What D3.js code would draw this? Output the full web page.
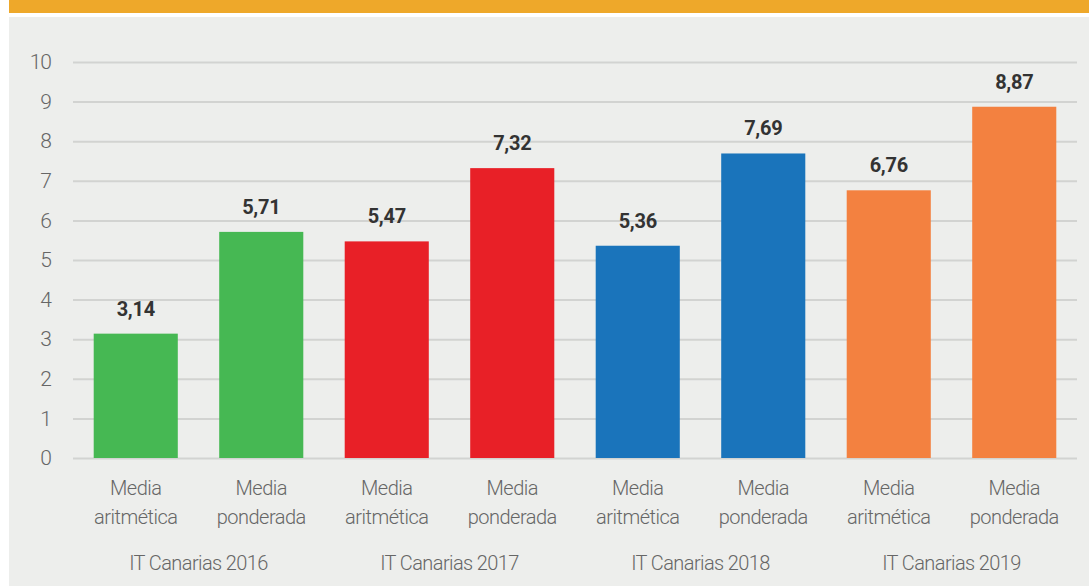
<!DOCTYPE html>
<html>
<head>
<meta charset="utf-8">
<script src="https://cdn.jsdelivr.net/npm/d3@7"></script>
<style>
  html, body { margin: 0; padding: 0; background: #fff; }
  svg { display: block; }
</style>
</head>
<body>
<div id="chart"></div>
<script>
// data
const groups = ["IT Canarias 2016", "IT Canarias 2017", "IT Canarias 2018", "IT Canarias 2019"];
const measures = ["Media aritmética", "Media ponderada"];
const values = [3.14, 5.71, 5.47, 7.32, 5.36, 7.69, 6.76, 8.87];
const groupColors = ["#46b853", "#e82027", "#1a74bb", "#f38140"];
const yTicks = [0, 1, 2, 3, 4, 5, 6, 7, 8, 9, 10];

const W = 1089, H = 586;
const margin = { top: 62, right: 12, bottom: 128, left: 73 };
const width = W - margin.left - margin.right;
const height = H - margin.top - margin.bottom;

const rows = values.map((v, i) => ({
  key: i,
  group: groups[Math.floor(i / 2)],
  measure: measures[i % 2],
  value: v,
  color: groupColors[Math.floor(i / 2)]
}));

const svg = d3.select("#chart").append("svg")
  .attr("width", W)
  .attr("height", H);

// orange header strip and grey panel
svg.append("rect").attr("x", 9).attr("y", 0).attr("width", W - 9).attr("height", 13).attr("fill", "#eea82a");
svg.append("rect").attr("x", 9).attr("y", 17).attr("width", W - 9).attr("height", H - 17).attr("fill", "#edeeec");

const g = svg.append("g").attr("transform", `translate(${margin.left},${margin.top})`);

const x = d3.scaleBand()
  .domain(rows.map(d => d.key))
  .range([0, width])
  .paddingInner(0.33)
  .paddingOuter(0.165);

const y = d3.scaleLinear().domain([0, 10]).range([height, 0]);

// gridlines + y labels
const yAxis = g.append("g")
  .call(d3.axisLeft(y).tickValues(yTicks).tickSize(-width).tickPadding(12).tickFormat(d3.format("d")));
yAxis.select(".domain").remove();
yAxis.selectAll(".tick line").attr("stroke", "#d2d3d1").attr("stroke-width", 2);
yAxis.selectAll(".tick text")
  .attr("x", -22)
  .attr("fill", "#666")
  .style("font-family", "Roboto, sans-serif")
  .style("font-weight", 300)
  .style("font-size", "21px")
  .style("letter-spacing", "-1px");

// bars
g.selectAll("rect.bar").data(rows).join("rect")
  .attr("class", "bar")
  .attr("x", d => x(d.key))
  .attr("y", d => y(d.value))
  .attr("width", x.bandwidth())
  .attr("height", d => y(0) - y(d.value))
  .attr("fill", d => d.color);

// value labels
const fmt = v => d3.format(".2f")(v).replace(".", ",");
g.selectAll("text.val").data(rows).join("text")
  .attr("class", "val")
  .attr("x", d => x(d.key) + x.bandwidth() / 2)
  .attr("y", d => y(d.value) - 18)
  .attr("text-anchor", "middle")
  .attr("fill", "#333")
  .style("font-family", "Roboto, sans-serif")
  .style("font-weight", 700)
  .style("font-size", "20px")
  .style("letter-spacing", "-0.3px");

g.selectAll("text.val").text(d => fmt(d.value));

// category labels (two lines)
const cat = g.selectAll("text.cat").data(rows).join("text")
  .attr("class", "cat")
  .attr("text-anchor", "middle")
  .attr("fill", "#666")
  .style("font-family", "Roboto, sans-serif")
  .style("font-weight", 300)
  .style("font-size", "20px")
  .style("letter-spacing", "-0.5px");
cat.each(function(d) {
  const parts = d.measure.split(" ");
  const t = d3.select(this);
  const cx = x(d.key) + x.bandwidth() / 2;
  t.append("tspan").attr("x", cx).attr("y", height + 37).text(parts[0]);
  t.append("tspan").attr("x", cx).attr("y", height + 66).text(parts[1]);
});

// group labels
g.selectAll("text.grp").data(groups).join("text")
  .attr("class", "grp")
  .attr("x", (d, i) => (x(i * 2) + x(i * 2 + 1) + x.bandwidth()) / 2)
  .attr("y", height + 112)
  .attr("text-anchor", "middle")
  .attr("fill", "#666")
  .style("font-family", "Roboto, sans-serif")
  .style("font-weight", 300)
  .style("font-size", "20px")
  .style("letter-spacing", "-0.6px")
  .text(d => d);
</script>
</body>
</html>
